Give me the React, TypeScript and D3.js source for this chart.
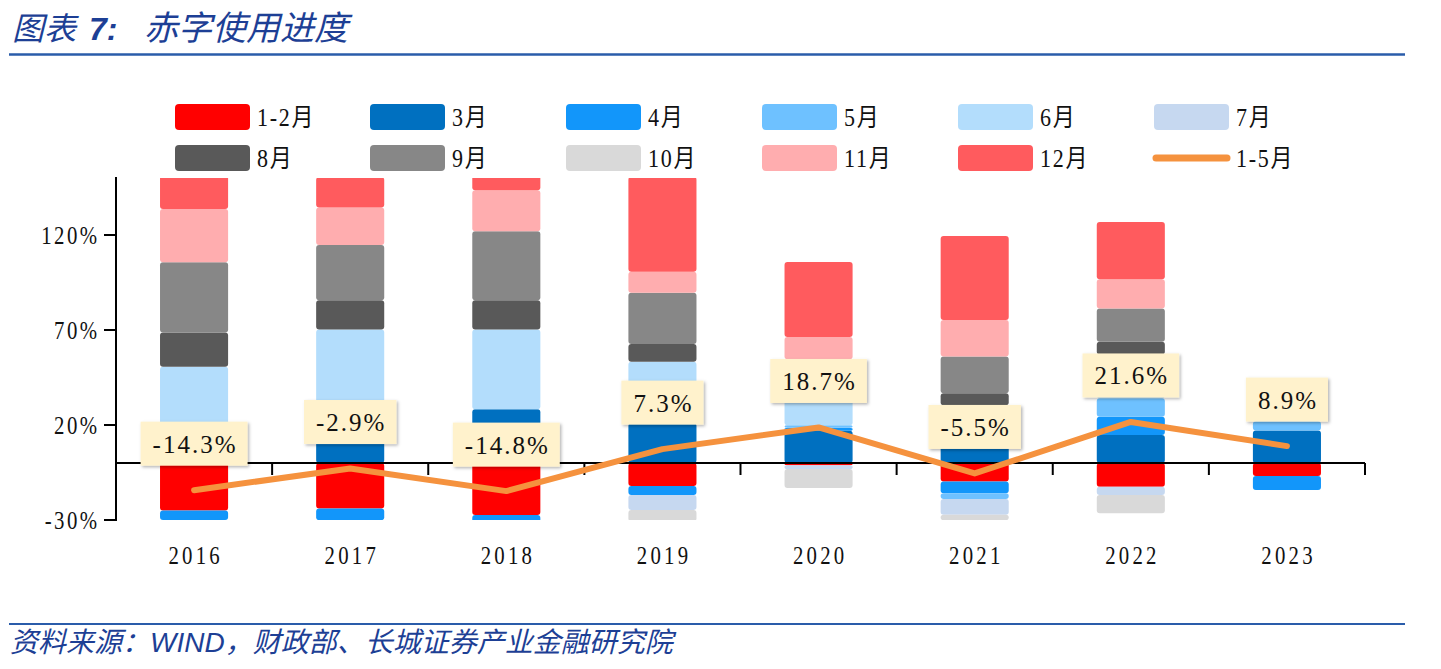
import React from 'react';
import * as d3 from 'd3';

// ---- data ----
const years = ['2016', '2017', '2018', '2019', '2020', '2021', '2022', '2023'];
const months = ['1-2月', '3月', '4月', '5月', '6月', '7月', '8月', '9月', '10月', '11月', '12月'];
const m1_2 = [-25, -23.9, -27.4, -12.1, -1.2, -9.8, -12.5, -6.8];
const m3 = [12, 22, 28.3, 21, 17, 13.4, 14.7, 17.1];
const m4 = [-5, -6.2, -15.7, -4.7, 1.6, -6.1, 9.6, -7.4];
const m5 = [3.7, 5.2, 0, 3.1, 1.3, -3, 9.8, 4.9];
const m6 = [35, 43.1, 42, 29.2, 20, 17, 23, 0];
const m7 = [0, 0, 0, -7.9, -2, -8.4, -4.4, 0];
const m8 = [18, 15.4, 15.4, 9.3, 4, 6.3, 6.7, 0];
const m9 = [37, 29, 36.3, 27, 10.7, 19.3, 17.5, 0];
const m10 = [0, 0, 0, -6, -10, -2.7, -9.6, 0];
const m11 = [28, 19.8, 21.6, 11, 11.7, 19.3, 15.4, 0];
const m12 = [18, 16, 8, 50, 39.5, 44.2, 30.2, 0];
const lineName = '1-5月';
const cum1to5 = [-14.3, -2.9, -14.8, 7.3, 18.7, -5.5, 21.6, 8.9];
const yTicks = [-30, 20, 70, 120];

const monthSeries = [m1_2, m3, m4, m5, m6, m7, m8, m9, m10, m11, m12];
const colors = ['#FF0000', '#0070C0', '#1296FA', '#6EC1FF', '#B3DDFC', '#C6D8F0', '#595959', '#878787', '#D9D9D9', '#FFADAF', '#FF5B5E'];
const lineColor = '#F5923E';

const serif = "'Liberation Serif', 'Noto Sans CJK SC', serif";
const cjk = "'Noto Sans CJK SC', sans-serif";
const blue = '#1D3F95';

function labelWidth(s: string, fs: number, ls: number) {
  let w = 0;
  for (const c of s) {
    if (c === '.') w += fs * 0.25;
    else if (c === '-') w += fs * 0.333;
    else if (c === '%') w += fs * 0.833;
    else w += fs * 0.5;
    w += ls;
  }
  return w;
}

function NText(props: { x: number; y: number; anchor?: string; fs: number; ls: number; sx: number; children: any }) {
  const { x, y, anchor = 'start', fs, ls, sx, children } = props;
  const shift = anchor === 'end' ? ls * sx : anchor === 'middle' ? (ls * sx) / 2 : 0;
  return (
    <text
      transform={`translate(${x + shift},${y}) scale(${sx},1)`}
      textAnchor={anchor}
      fontFamily={serif}
      fontSize={fs}
      letterSpacing={ls}
      fill="#111"
    >
      {children}
    </text>
  );
}

export default function App() {
  const W = 1441, H = 669;
  const L = 116, R = 1365, T = 178, B = 520;
  const x = d3.scaleBand<string>().domain(years).range([L, R]).paddingInner(0.564).paddingOuter(0.282);
  const y = d3.scaleLinear().domain([-30, 150]).range([B, T]);
  const bw = x.bandwidth();
  const step = x.step();

  const rows = years.map((yr, i) => {
    const o: any = { year: yr };
    months.forEach((k, j) => (o[k] = monthSeries[j][i]));
    return o;
  });
  const stacked = d3.stack<any>().keys(months).offset(d3.stackOffsetDiverging)(rows);

  const cx = (yr: string) => (x(yr) as number) + bw / 2;
  const linePath = d3.line<number>().x((_, i) => cx(years[i])).y((d) => y(d))(cum1to5) as string;

  const legendCols = [175, 370, 566, 762, 958, 1154];
  const legendRows = [104, 145];
  const legendItems = [...months.map((m, i) => ({ name: m, color: colors[i], type: 'rect' })), { name: lineName, color: lineColor, type: 'line' }];

  const fsLab = 25, lsLab = 2;

  return (
    <svg width={W} height={H} style={{ position: 'absolute', left: 0, top: 0, background: '#fff' }}>
      <defs>
        <clipPath id="plotClip">
          <rect x={L} y={T} width={R - L + 10} height={B - T} />
        </clipPath>
        <filter id="shadow" x="-20%" y="-20%" width="150%" height="160%">
          <feDropShadow dx="1.5" dy="1.5" stdDeviation="1.5" floodColor="#000" floodOpacity="0.3" />
        </filter>
      </defs>

      {/* title */}
      <text x={12} y={40} fontFamily={cjk} fontSize={32} fontStyle="italic" fill={blue}>图表</text>
      <text x={89} y={40} fontFamily="'Liberation Sans', sans-serif" fontSize={32} fontStyle="italic" fontWeight="bold" fill={blue}>7:</text>
      <text x={144} y={40} fontFamily={cjk} fontSize={34} fontStyle="italic" fill={blue}>赤字使用进度</text>
      <line x1={9} x2={1405} y1={54.5} y2={54.5} stroke="#2A5CAA" strokeWidth={2.5} />

      {/* legend */}
      {legendItems.map((it, i) => {
        const col = i % 6, row = Math.floor(i / 6);
        const lx = legendCols[col], ly = legendRows[row];
        return (
          <g key={it.name}>
            {it.type === 'rect' ? (
              <rect x={lx} y={ly} width={75} height={26} rx={4} fill={it.color} />
            ) : (
              <line x1={lx + 2} x2={lx + 73} y1={ly + 13} y2={ly + 13} stroke={it.color} strokeWidth={7} strokeLinecap="round" />
            )}
            <NText x={lx + 82} y={ly + 22} fs={25} ls={2} sx={0.88}>{it.name}</NText>
          </g>
        );
      })}

      {/* bars */}
      <g clipPath="url(#plotClip)">
        {stacked.map((s, si) => (
          <g key={s.key} fill={colors[si]}>
            {s.map((d, i) => {
              const y0 = y(d[0]), y1 = y(d[1]);
              const h = Math.abs(y0 - y1);
              if (h < 0.01) return null;
              return <rect key={i} x={x(years[i])} y={Math.min(y0, y1)} width={bw} height={h} rx={3} />;
            })}
          </g>
        ))}
      </g>

      {/* axes */}
      <line x1={L} x2={L} y1={T - 1} y2={B + 1} stroke="#000" strokeWidth={2} />
      {yTicks.map((t) => (
        <g key={t}>
          <line x1={L - 12} x2={L} y1={y(t)} y2={y(t)} stroke="#000" strokeWidth={2} />
          <NText x={97} y={y(t) + 8.5} anchor="end" fs={26} ls={3} sx={0.8}>{`${t}%`}</NText>
        </g>
      ))}
      <line x1={L} x2={R} y1={y(0)} y2={y(0)} stroke="#000" strokeWidth={2} />
      {d3.range(1, years.length + 1).map((i) => (
        <line key={i} x1={L + i * step} x2={L + i * step} y1={y(0)} y2={y(0) + 12} stroke="#000" strokeWidth={2} />
      ))}
      {years.map((yr) => (
        <NText key={yr} x={cx(yr)} y={564} anchor="middle" fs={26} ls={4} sx={0.8}>{yr}</NText>
      ))}

      {/* line */}
      <path d={linePath} fill="none" stroke={lineColor} strokeWidth={6} strokeLinejoin="round" strokeLinecap="round" />

      {/* data labels */}
      {cum1to5.map((v, i) => {
        const s = `${v.toFixed(1)}%`;
        const tw = labelWidth(s, fsLab, lsLab);
        const bwid = tw + 22;
        const ccx = cx(years[i]);
        const ccy = y(v) - 46.5;
        return (
          <g key={i}>
            <rect x={ccx - bwid / 2} y={ccy - 22} width={bwid} height={44} fill="#FFF2CC" filter="url(#shadow)" />
            <text x={ccx + lsLab / 2} y={ccy + 9} textAnchor="middle" fontFamily={serif} fontSize={fsLab} letterSpacing={lsLab} fill="#111">{s}</text>
          </g>
        );
      })}

      {/* source */}
      <line x1={9} x2={1405} y1={624} y2={624} stroke="#2A5CAA" strokeWidth={2} />
      <text x={10} y={652} fontFamily={cjk} fontSize={28} fontStyle="italic" fill={blue}>资料来源：<tspan fontFamily="'Liberation Sans', sans-serif">WIND</tspan>，财政部、长城证券产业金融研究院</text>
    </svg>
  );
}
